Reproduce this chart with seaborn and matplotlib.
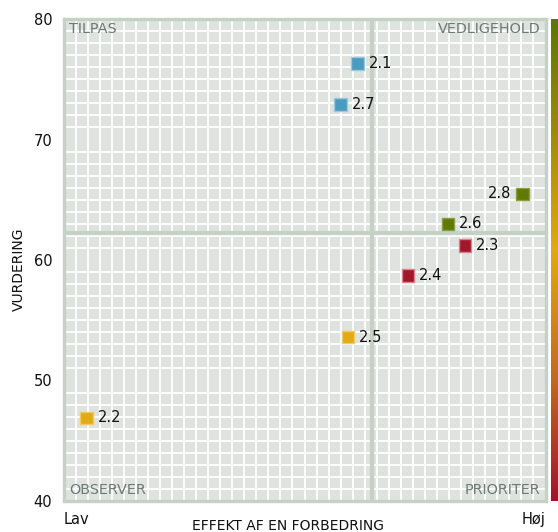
import numpy as np
import pandas as pd
import matplotlib
matplotlib.use("Agg")
import matplotlib.pyplot as plt
from matplotlib.colors import LinearSegmentedColormap
import seaborn as sns

# ---- data ----
labels = ["2.1", "2.7", "2.8", "2.6", "2.3", "2.4", "2.5", "2.2"]
effect = [24.4, 23.0, 38.1, 31.9, 33.3, 28.6, 23.6, 1.9]       # x (0..40, Lav..Høj)
rating = [76.3, 72.9, 65.5, 63.0, 61.2, 58.7, 53.6, 46.9]      # y (VURDERING)
group = ["blue", "blue", "green", "green", "red", "red", "yellow", "yellow"]
label_side = ["right", "right", "left", "right", "right", "right", "right", "right"]
x_split = 25.6
y_split = 62.2
quadrants = ["TILPAS", "VEDLIGEHOLD", "OBSERVER", "PRIORITER"]
y_ticks = [40, 50, 60, 70, 80]
x_tick_labels = ["Lav", "Høj"]

palette = {"blue": "#4a9bbf", "green": "#5f7a06", "red": "#a0182c", "yellow": "#e2aa14"}
edge = {"blue": "#9cc9dc", "green": "#8aa03c", "red": "#e0808a", "yellow": "#f0cc60"}

df = pd.DataFrame({"effect": effect, "rating": rating, "group": group,
                   "label": labels, "side": label_side})

sns.set_theme(style="white")
plt.rcParams["font.family"] = ["DejaVu Sans"]

fig = plt.figure(figsize=(5.58, 5.32), dpi=100)
ax = fig.add_axes([63.5 / 558, 1 - 501 / 532, (545.5 - 63.5) / 558, 482 / 532])

ax.set_facecolor("#dfe3e0")
ax.set_xlim(0, 40)
ax.set_ylim(40, 80)

# grid
ax.set_xticks(np.arange(0, 41, 1), minor=True)
ax.set_yticks(np.arange(40, 81, 1), minor=True)
ax.grid(which="minor", color="white", linewidth=1.3)
ax.grid(which="major", visible=False)
ax.tick_params(which="minor", length=0)
ax.set_axisbelow(True)

for s in ax.spines.values():
    s.set_color("#c6d1c6")
    s.set_linewidth(2.4)

ax.axvline(x_split, color="#c6d1c6", linewidth=3, zorder=1.5)
ax.axhline(y_split, color="#c6d1c6", linewidth=3, zorder=1.5)

sns.scatterplot(data=df, x="effect", y="rating", hue="group", palette=palette,
                marker="s", s=80, linewidth=1.0,
                edgecolor=[edge[g] for g in group], legend=False, ax=ax, zorder=3)

for _, r in df.iterrows():
    if r["side"] == "right":
        ax.annotate(r["label"], (r["effect"], r["rating"]), xytext=(8, 0),
                    textcoords="offset points", ha="left", va="center",
                    fontsize=10.5, color="#111111")
    else:
        ax.annotate(r["label"], (r["effect"], r["rating"]), xytext=(-8, 0),
                    textcoords="offset points", ha="right", va="center",
                    fontsize=10.5, color="#111111")

qc = "#6c7a70"
qfs = 10.4
ax.text(0.012, 0.994, quadrants[0], transform=ax.transAxes, ha="left", va="top", fontsize=qfs, color=qc)
ax.text(0.99, 0.994, quadrants[1], transform=ax.transAxes, ha="right", va="top", fontsize=qfs, color=qc)
ax.text(0.012, 0.008, quadrants[2], transform=ax.transAxes, ha="left", va="bottom", fontsize=qfs, color=qc)
ax.text(0.99, 0.008, quadrants[3], transform=ax.transAxes, ha="right", va="bottom", fontsize=qfs, color=qc)

ax.set_yticks(y_ticks)
ax.set_yticklabels([str(v) for v in y_ticks], fontsize=10.5, color="#111111")
ax.set_xticks([0, 40])
ax.set_xticklabels(x_tick_labels, fontsize=10.5, color="#111111")
xl = ax.get_xticklabels()
xl[0].set_ha("left")
xl[1].set_ha("right")
ax.tick_params(axis="y", which="major", length=0, pad=8)
ax.tick_params(axis="x", which="major", length=0, pad=8)

ax.set_ylabel("VURDERING", fontsize=10, color="#111111")
ax.yaxis.set_label_coords(-0.077, 0.48)
ax.set_xlabel("EFFEKT AF EN FORBEDRING", fontsize=10, color="#111111")
ax.xaxis.set_label_coords(0.465, -0.038)
ax.xaxis.label.set_va("top")

# colour bar on the right
cmap = LinearSegmentedColormap.from_list(
    "g", [(0.0, "#a0142c"), (0.25, "#bf6a20"), (0.52, "#e0aa12"), (0.78, "#9a8a08"), (1.0, "#5a7800")])
cax = fig.add_axes([550.5 / 558, 1 - 501 / 532, 10 / 558, 482 / 532])
grad = np.linspace(0, 1, 256).reshape(-1, 1)
cax.imshow(grad, aspect="auto", cmap=cmap, origin="lower", extent=[0, 1, 0, 1])
cax.set_axis_off()

fig.savefig("out.png", dpi=100)
